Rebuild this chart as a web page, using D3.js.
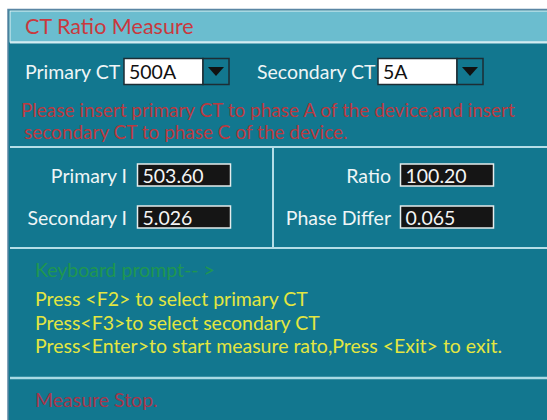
<!DOCTYPE html>
<html>
<head>
<meta charset="utf-8">
<script src="https://cdn.jsdelivr.net/npm/d3@7"></script>
<style>
  body { margin: 0; background: #fff; }
  svg text { font-family: Lato, "Open Sans", sans-serif; }
</style>
</head>
<body>
<div id="screen"></div>
<script>
// screen content
var title = "CT Ratio Measure";
var ctLabels = ["Primary CT", "Secondary CT"];
var ctValues = ["500A", "5A"];
var notice = [
    "Please insert primary CT to phase A of the device,and insert",
    "secondary CT to phase C of the device."
];
var measureLabels = ["Primary I", "Secondary I", "Ratio", "Phase Differ"];
var measureValues = ["503.60", "5.026", "100.20", "0.065"];
var promptHead = "Keyboard prompt-- >";
var prompts = [
    "Press <F2> to select primary CT",
    "Press<F3>to select secondary CT",
    "Press<Enter>to start measure rato,Press <Exit> to exit."
];
var status = "Measure Stop.";

var W = 547, H = 420;
var teal = "#12778f", bar = "#6bbdcf", rule = "#b4dde7";

var svg = d3.select("#screen").append("svg")
    .attr("width", W)
    .attr("height", H);

// panel frame
svg.append("rect").attr("x", 8).attr("y", 9.5).attr("width", W).attr("height", H)
    .attr("fill", teal).attr("stroke", "#5a86a4").attr("stroke-width", 1.5);
svg.append("rect").attr("x", 10).attr("y", 11).attr("width", W).attr("height", 31)
    .attr("fill", bar).attr("stroke", "#e4f3f6").attr("stroke-width", 1);
svg.append("line").attr("x1", 10).attr("x2", W).attr("y1", 42.5).attr("y2", 42.5)
    .attr("stroke", "#d2ecf1").attr("stroke-width", 2);

// condense factor so glyphs take the narrow look of the device font
var probe = svg.append("text").attr("font-size", 19).text(prompts[2]);
var k = 467 / probe.node().getComputedTextLength();
probe.remove();

function label(x, y, str, size, color, anchor) {
    var t = svg.append("text")
        .attr("x", x).attr("y", y)
        .attr("font-size", size)
        .attr("fill", color)
        .text(str);
    var w = t.node().getComputedTextLength() * k;
    t.attr("textLength", w).attr("lengthAdjust", "spacingAndGlyphs");
    if (anchor === "end") t.attr("x", x - w);
    return t;
}

label(25, 34, title, 21, "#c9393e");

// CT selectors
var ctX = d3.scaleOrdinal().domain(ctLabels).range([25, 257]);
var boxX = d3.scaleOrdinal().domain(ctLabels).range([124, 378]);
ctLabels.forEach(function (name, i) {
    label(ctX(name), 79, name, 19, "#eef5f6");
    var bx = boxX(name);
    svg.append("rect").attr("x", bx).attr("y", 58.5).attr("width", 79).attr("height", 26)
        .attr("fill", "#fff").attr("stroke", "#1d2d34").attr("stroke-width", 1.5);
    svg.append("rect").attr("x", bx + 79).attr("y", 58.5).attr("width", 26).attr("height", 26)
        .attr("fill", teal).attr("stroke", "#1d2d34").attr("stroke-width", 1.5);
    var cx = bx + 92;
    svg.append("path")
        .attr("d", "M" + (cx - 8) + ",67L" + (cx + 8) + ",67L" + cx + ",76Z")
        .attr("fill", "#111");
    label(bx + 5, 79, ctValues[i], 19, "#111");
});

// notice
var noticeY = d3.scalePoint().domain(d3.range(notice.length)).range([117, 139]);
notice.forEach(function (s, i) {
    label(i ? 24 : 21, noticeY(i), s, 18.5, "#bb3a40");
});

// measurement grid
[147, 248].forEach(function (y) {
    svg.append("line").attr("x1", 10).attr("x2", W).attr("y1", y).attr("y2", y)
        .attr("stroke", rule).attr("stroke-width", 2);
});
svg.append("line").attr("x1", 273).attr("x2", 273).attr("y1", 147).attr("y2", 248)
    .attr("stroke", rule).attr("stroke-width", 2);

var rowY = d3.scalePoint().domain([0, 1]).range([183, 225]);
var colEnd = d3.scalePoint().domain([0, 1]).range([127, 391]);
var colBox = d3.scalePoint().domain([0, 1]).range([137.5, 400.5]);
measureLabels.forEach(function (name, i) {
    var col = Math.floor(i / 2), row = i % 2;
    var y = rowY(row);
    label(colEnd(col), y, name, 19, "#eef5f6", "end");
    svg.append("rect").attr("x", colBox(col)).attr("y", y - 19).attr("width", 93).attr("height", 22)
        .attr("fill", "#151515").attr("stroke", "#e4ecec").attr("stroke-width", 1.5);
    label(colBox(col) + 5, y, measureValues[i], 19, "#f4f4f4");
});

// keyboard prompt
label(35, 277, promptHead, 19, "#1f9650");
var promptY = d3.scalePoint().domain(d3.range(prompts.length)).range([306, 353]);
prompts.forEach(function (s, i) {
    label(35, promptY(i), s, 19, "#e3e641");
});

svg.append("line").attr("x1", 10).attr("x2", W).attr("y1", 378).attr("y2", 378)
    .attr("stroke", "#a9d9e4").attr("stroke-width", 2.5);

label(35, 407, status, 19, "#a6364b");
</script>
</body>
</html>
